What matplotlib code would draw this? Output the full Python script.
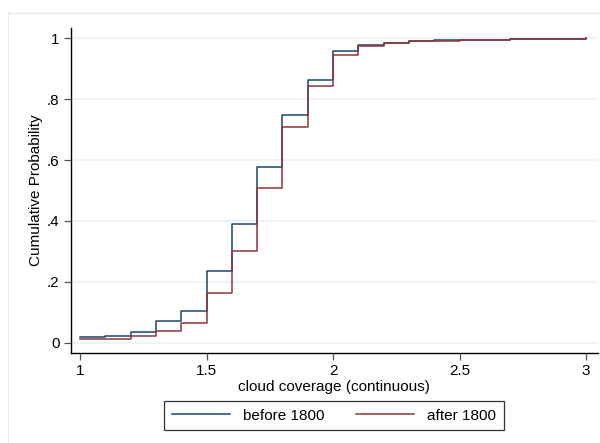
import matplotlib
matplotlib.use("Agg")
import matplotlib.pyplot as plt
from matplotlib.lines import Line2D

# Data
cloud = [1.0, 1.1, 1.2, 1.3, 1.4, 1.5, 1.6, 1.7, 1.8, 1.9, 2.0,
         2.1, 2.2, 2.3, 2.4, 2.5, 2.6, 2.7, 2.8, 2.9, 3.0]
before_1800 = [0.019, 0.023, 0.037, 0.071, 0.106, 0.237, 0.389, 0.576, 0.749, 0.862, 0.957,
               0.977, 0.984, 0.990, 0.992, 0.994, 0.995, 0.996, 0.998, 0.998, 1.0]
after_1800 = [0.012, 0.014, 0.022, 0.040, 0.066, 0.165, 0.302, 0.507, 0.707, 0.844, 0.945,
              0.974, 0.983, 0.989, 0.991, 0.993, 0.994, 0.996, 0.998, 0.998, 1.0]
series_labels = ["before 1800", "after 1800"]
xticks = [1, 1.5, 2, 2.5, 3]
xtick_labels = ["1", "1.5", "2", "2.5", "3"]
yticks = [0, 0.2, 0.4, 0.6, 0.8, 1.0]
ytick_labels = ["0", ".2", ".4", ".6", ".8", "1"]

plt.rcParams['font.family'] = ['Liberation Sans', 'DejaVu Sans']

W, H = 600, 443
fig = plt.figure(figsize=(6, 4.43), dpi=100)
fig.patch.set_facecolor('white')

# faint outer frame (graph region border)
border = "#e6eef0"
fig.add_artist(Line2D([8/W, 8/W], [0, 1 - 13/H], transform=fig.transFigure, color=border, lw=1))
fig.add_artist(Line2D([8/W, 1], [1 - 13/H, 1 - 13/H], transform=fig.transFigure, color=border, lw=1))

left, right = 70.5/W, 598/W
bottom, top = (H - 353)/H, (H - 28)/H
ax = fig.add_axes([left, bottom, right - left, top - bottom])

navy = "#1a476f"
maroon = "#90353b"
ax.plot(cloud, before_1800, drawstyle='steps-post', color=navy, lw=1.1, label=series_labels[0], zorder=3)
ax.plot(cloud, after_1800, drawstyle='steps-post', color=maroon, lw=1.1, label=series_labels[1], zorder=3)

ax.set_xlim(0.9625, 3.047)
ax.set_ylim(-0.0328, 1.0328)
ax.set_xticks(xticks)
ax.set_xticklabels(xtick_labels)
ax.set_yticks(yticks)
ax.set_yticklabels(ytick_labels)

for y in yticks:
    ax.axhline(y, color="#eaf2f3", lw=1.2, zorder=1)

for s in ['top', 'right']:
    ax.spines[s].set_visible(False)
for s in ['left', 'bottom']:
    ax.spines[s].set_color('black')
    ax.spines[s].set_linewidth(1.0)

ax.tick_params(axis='both', direction='out', length=5, width=0.9, color='#555555',
               labelsize=11, labelcolor='black', pad=3)

ax.set_xlabel("cloud coverage (continuous)", fontsize=11, labelpad=1)
ax.set_ylabel("Cumulative Probability", fontsize=11, labelpad=3)

leg = ax.legend(loc='center', bbox_to_anchor=(334/W, 1 - 415.5/H), bbox_transform=fig.transFigure,
                ncol=2, frameon=True, fancybox=False, fontsize=11, handlelength=3.8,
                handletextpad=0.85, columnspacing=2.1, borderpad=0.5, borderaxespad=0)
leg.get_frame().set_edgecolor('black')
leg.get_frame().set_linewidth(0.9)

fig.savefig("out.png", dpi=100, facecolor='white')
